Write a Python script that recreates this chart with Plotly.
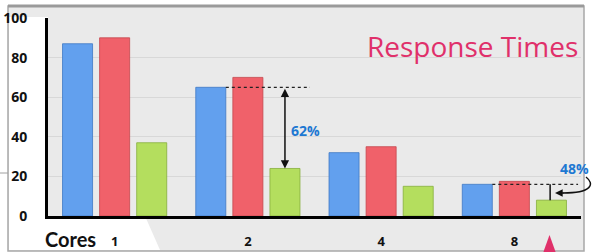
import plotly.graph_objects as go

# ---- data ----
cores = ["1", "2", "4", "8"]
blue_vals = [87, 65, 32, 16]
red_vals = [90, 70, 35, 17.5]
green_vals = [37, 24, 15, 8]
y_ticks = [0, 20, 40, 60, 80, 100]
title_text = "Response Times"
pct_2 = "62%"
pct_8 = "48%"

W, H = 593, 252
L, R, T, B = 48, 12, 18, 36
PW, PH = W - L - R, H - T - B

def px(x):
    return (x - L) / PW

def py(y):
    return (H - B - y) / PH

bargap = 0.165
bargroupgap = 0.19
slot = (1 - bargap) / 3
half_bar = slot * (1 - bargroupgap) / 2

fig = go.Figure()
fig.add_bar(x=cores, y=blue_vals, name="A",
            marker=dict(color="#62A0EE", line=dict(color="#3F78C4", width=0.8)))
fig.add_bar(x=cores, y=red_vals, name="B",
            marker=dict(color="#F0616A", line=dict(color="#C4464C", width=0.8)))
fig.add_bar(x=cores, y=green_vals, name="C",
            marker=dict(color="#B4DE5E", line=dict(color="#86AE3C", width=0.8)))

shapes = []
# frame background
shapes.append(dict(type="rect", xref="paper", yref="paper", layer="below",
                   x0=px(8), x1=px(584), y0=py(251), y1=py(6),
                   fillcolor="#EAEAEA", line=dict(color="#A8A8A8", width=1.5)))
shapes.append(dict(type="path", xref="paper", yref="paper", layer="below",
                   path=f"M {px(9)},{py(17)} L {px(48)},{py(17)} L {px(48)},{py(216)} "
                        f"L {px(145)},{py(216)} L {px(160)},{py(250)} L {px(9)},{py(250)} Z",
                   fillcolor="#FFFFFF", line=dict(width=0)))
shapes.append(dict(type="line", xref="paper", yref="paper", layer="above",
                   x0=px(8), x1=px(584), y0=py(6), y1=py(6),
                   line=dict(color="#9A9A9A", width=3)))
shapes.append(dict(type="line", xref="paper", yref="paper", layer="above",
                   x0=px(0), x1=px(8), y0=py(173), y1=py(173),
                   line=dict(color="#A0A0A0", width=1)))
# pink pointer triangle
shapes.append(dict(type="path", xref="paper", yref="paper", layer="above",
                   path=f"M {px(543)},{py(253)} L {px(549.5)},{py(235)} L {px(556)},{py(253)} Z",
                   fillcolor="#E0306A", line=dict(width=0)))

# group "2" annotation: dashed line at blue top
g = 1
shapes.append(dict(type="line", xref="x", yref="y",
                   x0=g - slot + half_bar, x1=g + 0.466, y0=blue_vals[g], y1=blue_vals[g],
                   line=dict(color="#222222", width=1.2, dash="dot")))
# group "8" annotation
g = 3
shapes.append(dict(type="line", xref="x", yref="y",
                   x0=g - slot + half_bar, x1=g + 0.478, y0=blue_vals[g], y1=blue_vals[g],
                   line=dict(color="#222222", width=1.2, dash="dot")))
shapes.append(dict(type="line", xref="x", yref="y",
                   x0=g + slot - 0.01, x1=g + slot - 0.01, y0=blue_vals[g], y1=green_vals[g],
                   line=dict(color="#111111", width=1.5)))
# curved arrow from 48% label
shapes.append(dict(type="path", xref="paper", yref="paper", layer="above",
                   path=f"M {px(586)},{py(177)} C {px(595)},{py(184)} {px(592)},{py(193)} {px(563)},{py(193)}",
                   line=dict(color="#111111", width=1.4)))

annotations = [
    dict(text=title_text, xref="paper", yref="paper", x=px(580), y=py(46),
         xanchor="right", yanchor="middle", showarrow=False,
         font=dict(family="Open Sans", size=28, color="#E0306A")),
    dict(text="<b>Cores</b>", xref="paper", yref="paper", x=px(43), y=py(239),
         xanchor="left", yanchor="middle", showarrow=False,
         font=dict(family="Lato", size=20, color="#111111")),
    # double arrow group 2
    dict(x=1 + slot, y=green_vals[1], ax=1 + slot, ay=blue_vals[1],
         xref="x", yref="y", axref="x", ayref="y", text="", showarrow=True,
         arrowhead=2, arrowside="end+start", arrowsize=1.1, arrowwidth=1.5,
         arrowcolor="#111111", standoff=0, startstandoff=0),
    dict(text=f"<b>{pct_2}</b>", xref="paper", yref="paper", x=px(289), y=py(130),
         xanchor="left", yanchor="middle", showarrow=False,
         font=dict(family="Open Sans", size=14, color="#1E78D2")),
    dict(text=f"<b>{pct_8}</b>", xref="paper", yref="paper", x=px(591), y=py(168),
         xanchor="right", yanchor="middle", showarrow=False,
         font=dict(family="Open Sans", size=14, color="#1E78D2")),
    # arrow head of curved arrow
    dict(x=px(555), y=py(193), xref="paper", yref="paper", ax=10, ay=0,
         text="", showarrow=True, arrowhead=2, arrowsize=1.1, arrowwidth=1.4,
         arrowcolor="#111111", standoff=0),
]

fig.update_layout(
    width=W, height=H,
    margin=dict(l=L, r=R, t=T, b=B, pad=0, autoexpand=False),
    paper_bgcolor="#FFFFFF", plot_bgcolor="#FFFFFF",
    barmode="group", bargap=bargap, bargroupgap=bargroupgap,
    showlegend=False,
    shapes=shapes, annotations=annotations,
    xaxis=dict(type="category", categoryorder="array", categoryarray=cores,
               range=[-0.5, 3.5], showgrid=False, zeroline=False, automargin=False,
               showline=True, linecolor="#000000", linewidth=3,
               ticks="", ticklabelstandoff=11,
               tickfont=dict(family="Open Sans", size=13, color="#111111", weight="bold")),
    yaxis=dict(range=[0, 100], tickvals=y_ticks, showgrid=True, gridcolor="#D8D8D8",
               gridwidth=1, zeroline=False, showline=True, linecolor="#000000",
               linewidth=3, ticks="", ticklabelstandoff=15, automargin=False,
               tickfont=dict(family="Open Sans", size=14, color="#111111", weight="bold")),
    font=dict(family="Open Sans"),
)

fig.write_html("out.html", config={"displayModeBar": False},
               post_script="document.body.style.margin='0';document.body.style.overflow='hidden';")
